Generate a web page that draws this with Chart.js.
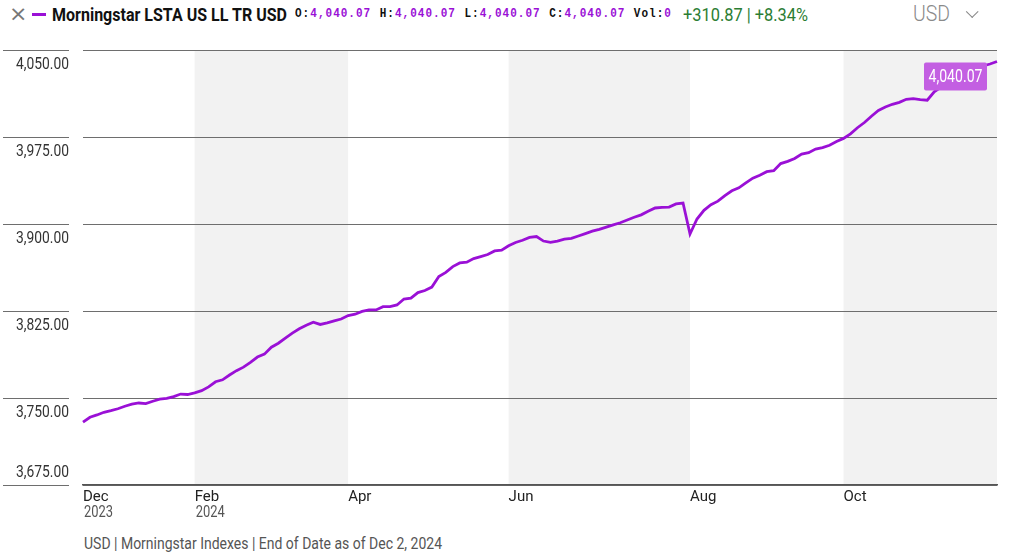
<!DOCTYPE html>
<html>
<head>
<meta charset="utf-8">
<script src="https://cdn.jsdelivr.net/npm/chart.js@4.4.1/dist/chart.umd.min.js"></script>
<style>
  html, body { margin: 0; padding: 0; background: #fff; width: 1024px; height: 558px; overflow: hidden; }
  body { position: relative; font-family: Roboto, 'Noto Sans', sans-serif; }
  #chart { position: absolute; left: 0; top: 0; }
  .abs { position: absolute; white-space: nowrap; transform-origin: left center; }
  #close { left: 9px; top: 1px; font-size: 22px; color: #777; font-family: 'DejaVu Sans', sans-serif; }
  #dash { left: 32px; top: 13px; width: 14px; height: 3px; background: #9a10d6; }
  #title { left: 52px; top: 3px; font-size: 19px; font-weight: bold; color: #111; }
  #ohlc { left: 295px; top: 6px; font-family: 'Liberation Mono', 'DejaVu Sans Mono', monospace; font-weight: bold; font-size: 13px; letter-spacing: 1.2px; color: #111; }
  #ohlc b { color: #9a10d6; }
  #ohlc i { font-style: normal; display: inline-block; width: 10px; }
  #change { left: 683px; top: 3px; font-size: 19px; color: #2b7d33; }
  #cur { left: 913px; top: 1px; font-size: 22px; color: #8a8a8a; font-weight: 300; }
  #chev { left: 969px; top: 4px; width: 8px; height: 8px; border-right: 1.5px solid #888; border-bottom: 1.5px solid #888; transform: rotate(45deg); }
  #foot { left: 84px; top: 534px; font-size: 16px; color: #555; }
</style>
</head>
<body>
<div class="abs" id="close">×</div>
<div class="abs" id="dash"></div>
<div class="abs" id="title">Morningstar LSTA US LL TR USD</div>
<div class="abs" id="ohlc">O:<b>4,040.07</b><i></i>H:<b>4,040.07</b><i></i>L:<b>4,040.07</b><i></i>C:<b>4,040.07</b><i></i>Vol:<b>0</b></div>
<div class="abs" id="change">+310.87 | +8.34%</div>
<div class="abs" id="cur">USD</div>
<div class="abs" id="chev"></div>
<div class="abs" id="foot">USD | Morningstar Indexes | End of Date as of Dec 2, 2024</div>
<canvas id="chart" width="1024" height="558"></canvas>
<script>
// index values, one per sample along the year
const values = [
  3729.2, 3733.4, 3735.4, 3737.7, 3739.1, 3740.7, 3742.9, 3744.7, 3745.7, 3745.1,
  3747.2, 3749.0, 3749.7, 3751.2, 3753.4, 3753.0, 3754.5, 3756.3, 3759.6, 3764.0,
  3765.7, 3769.8, 3773.6, 3776.6, 3780.7, 3785.3, 3787.8, 3793.8, 3797.2, 3801.6,
  3805.9, 3809.7, 3812.8, 3815.3, 3813.4, 3814.7, 3816.5, 3818.1, 3821.1, 3822.2,
  3824.7, 3825.9, 3825.9, 3828.7, 3828.7, 3830.2, 3835.3, 3836.1, 3840.9, 3842.7,
  3845.6, 3854.7, 3858.3, 3863.3, 3866.4, 3867.1, 3870.2, 3871.9, 3873.7, 3876.8,
  3877.4, 3881.2, 3884.1, 3886.0, 3888.4, 3889.2, 3885.3, 3884.1, 3885.3, 3887.0,
  3887.6, 3889.7, 3891.7, 3893.8, 3895.3, 3897.3, 3899.3, 3901.1, 3903.4, 3905.8,
  3907.9, 3910.9, 3913.8, 3914.3, 3914.6, 3917.3, 3918.1, 3891.4, 3904.3, 3911.8,
  3916.6, 3919.7, 3924.5, 3928.6, 3931.2, 3935.4, 3939.5, 3942.1, 3945.1, 3945.9,
  3952.1, 3954.0, 3956.5, 3960.2, 3961.5, 3964.6, 3965.9, 3967.9, 3971.1, 3973.8,
  3977.7, 3983.0, 3987.5, 3992.9, 3997.9, 4000.9, 4003.2, 4004.9, 4007.5, 4008.1,
  4007.3, 4006.7, 4014.0, 4018.0, 4020.9, 4023.5, 4026.4, 4029.4, 4032.6, 4036.2,
  4037.9, 4040.07
];

// month ticks and where they fall in the series
const monthTicks = ['Dec', 'Feb', 'Apr', 'Jun', 'Aug', 'Oct'];
const monthIdx = [0, 16, 38, 61, 87, 109];
const yearTicks = ['2023', '2024', '', '', '', ''];
const yTicks = [3675, 3750, 3825, 3900, 3975, 4050];

// shaded months (start index, end index)
const bandStarts = [16, 61, 109];
const bandEnds = [38, 87, 131];

const FONT = "Roboto, 'Noto Sans', sans-serif";
const PURPLE = '#9a10d6';

const labels = values.map((v, i) => {
    const k = monthIdx.indexOf(i);
    return k >= 0 ? monthTicks[k] : '';
});

function fmt(n) {
    return n.toLocaleString('en-US', { minimumFractionDigits: 2, maximumFractionDigits: 2 });
}

// squeeze html text to the width it has in the original
function fit(id, w) {
    const el = document.getElementById(id);
    const s = w / el.getBoundingClientRect().width;
    el.style.transform = 'scaleX(' + s + ')';
}
fit('title', 235);
fit('ohlc', 377);
fit('change', 125);
fit('cur', 37);
fit('foot', 358);

// canvas text squeezed horizontally (condensed face look)
function narrowText(ctx, txt, x, y, k) {
    ctx.save();
    ctx.translate(x, y);
    ctx.scale(k, 1);
    ctx.fillText(txt, 0, 0);
    ctx.restore();
}

// background bands, y labels, years, last value tag
const decor = {
    id: 'decor',
    beforeDraw(chart) {
        const { ctx, chartArea, scales } = chart;
        ctx.save();
        ctx.fillStyle = '#f2f2f2';
        bandStarts.forEach((s, i) => {
            const x0 = scales.x.getPixelForValue(s);
            const x1 = scales.x.getPixelForValue(bandEnds[i]);
            ctx.fillRect(x0, chartArea.top, x1 - x0, chartArea.bottom - chartArea.top);
        });
        ctx.restore();
    },
    afterDraw(chart) {
        const { ctx, scales } = chart;
        ctx.save();
        // y labels sit under their grid line, left part of the line extends under them
        ctx.font = '16.5px ' + FONT;
        ctx.textAlign = 'right';
        ctx.textBaseline = 'middle';
        const ky = 53 / ctx.measureText('4,050.00').width;
        yTicks.forEach((t, i) => {
            const y = Math.round(scales.y.getPixelForValue(t)) + 0.5;
            ctx.strokeStyle = '#6e6e6e';
            ctx.lineWidth = 1;
            ctx.beginPath();
            ctx.moveTo(3, y);
            ctx.lineTo(69, y);
            ctx.stroke();
            ctx.fillStyle = '#333';
            const ty = i === 0 ? y - 13 : y + 14;
            narrowText(ctx, fmt(t), 69, ty, ky);
        });
        // year line under month ticks
        ctx.textAlign = 'left';
        ctx.fillStyle = '#555';
        ctx.font = '16px ' + FONT;
        const kx = 29 / ctx.measureText('2023').width;
        yearTicks.forEach((yr, i) => {
            if (!yr) return;
            narrowText(ctx, yr, scales.x.getPixelForValue(monthIdx[i]) + 1, 513, kx);
        });
        // last value tag
        const meta = chart.getDatasetMeta(0);
        const pt = meta.data[meta.data.length - 1];
        const bx = pt.x - 73, by = pt.y + 1, bw = 63, bh = 28;
        ctx.fillStyle = '#c35fe2';
        ctx.beginPath();
        ctx.roundRect(bx, by, bw, bh, 2);
        ctx.fill();
        ctx.fillStyle = '#fff';
        ctx.textAlign = 'center';
        ctx.font = '18px ' + FONT;
        const tag = fmt(values[values.length - 1]);
        const kt = 54 / ctx.measureText(tag).width;
        narrowText(ctx, tag, bx + bw / 2, by + bh / 2 + 1, kt);
        ctx.restore();
    }
};

new Chart(document.getElementById('chart'), {
    type: 'line',
    data: {
        labels: labels,
        datasets: [{
            data: values,
            borderColor: PURPLE,
            borderWidth: 2.8,
            pointRadius: 0,
            tension: 0,
            fill: false
        }]
    },
    options: {
        responsive: false,
        animation: false,
        layout: { padding: { left: 83, right: 27, top: 50, bottom: 0 } },
        plugins: { legend: { display: false }, tooltip: { enabled: false } },
        scales: {
            x: {
                type: 'category',
                offset: false,
                grid: { display: false, drawTicks: false },
                border: { display: true, color: '#555', width: 1.5 },
                ticks: {
                    autoSkip: false,
                    maxRotation: 0,
                    align: 'start',
                    padding: 3,
                    color: '#222',
                    font: { family: FONT, size: 15 },
                    callback: (v, i) => labels[i] || null
                },
                afterFit: (s) => { s.height = 73; }
            },
            y: {
                min: 3675,
                max: 4050,
                ticks: { display: false, stepSize: 75 },
                grid: { color: '#6e6e6e', drawTicks: false },
                border: { display: false },
                afterFit: (s) => { s.width = 0; }
            }
        }
    },
    plugins: [decor]
});
</script>
</body>
</html>
